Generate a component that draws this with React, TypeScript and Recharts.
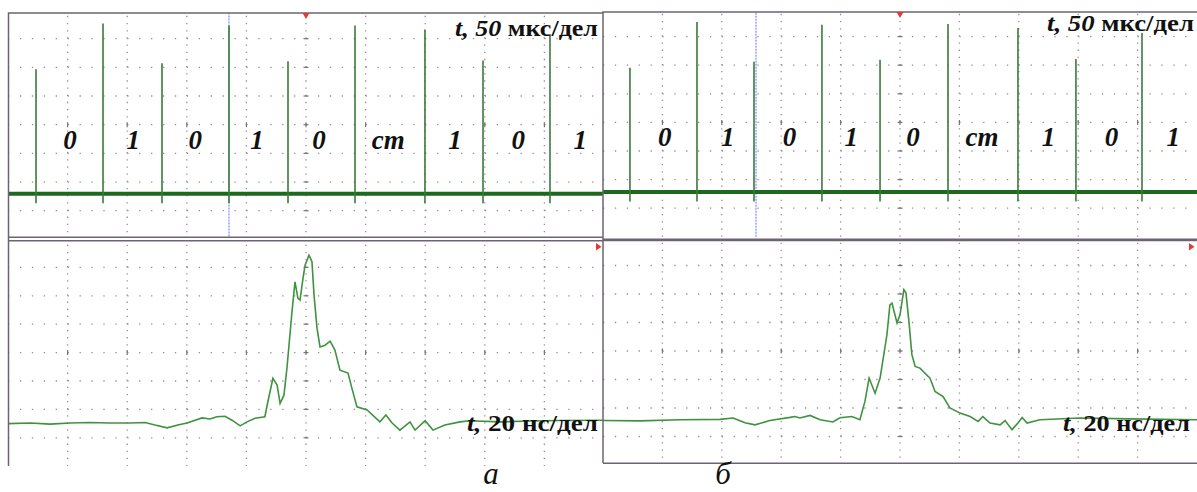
import React from "react";
import {
  ComposedChart,
  Line,
  Scatter,
  XAxis,
  YAxis,
  ReferenceLine,
  ReferenceDot,
} from "recharts";

// --- top traces: code pulse train, 50 µs/div, amplitude in divisions ---
const trainTimesA = [23.5, 79.7, 129.2, 185.4, 234.9, 291.1, 349.8, 398.5, 454.7];
const trainPeaksA = [5.93, 7.53, 6.14, 7.46, 6.21, 7.46, 7.32, 6.24, 7.12];
const trainTimesB = [22.7, 79.1, 127.1, 184.3, 233.2, 290.4, 349.3, 398.1, 453.7];
const trainPeaksB = [5.91, 7.51, 6.12, 7.41, 6.19, 7.44, 7.3, 6.22, 7.13];
const trainBase = [1.59, 1.57]; // а, б
const trainTail = [1.26, 1.23];

// bit labels between the pulses
const bitLabels = ["0", "1", "0", "1", "0", "ст", "1", "0", "1"];
const bitTimes = [52, 105, 157, 209, 261, 319, 375, 428, 480];
const bitLevel = 3.16;

// --- bottom traces: single pulse, 20 ns/div ---
const pulseTimeA = [0, 7.4, 14.1, 20.8, 27.5, 34.2, 40.9, 46.0, 49.3, 53.4, 57.0, 60.1, 62.8, 65.1, 67.8, 70.1, 72.8, 75.2, 77.9, 80.2, 82.9, 86.2, 87.2, 88.9, 90.3, 91.3, 92.6, 93.6, 95.3, 96.3, 97.3, 98.0, 99.0, 99.7, 101.0, 102.0, 102.7, 103.7, 104.7, 106.4, 108.1, 109.7, 111.4, 114.1, 115.4, 117.1, 120.5, 124.8, 126.8, 128.9, 131.5, 134.9, 136.6, 140.0, 142.6, 146.6, 151.7, 155.0, 165.1, 175.2, 185.2, 200];
const pulseAmpA = [1.5, 1.52, 1.48, 1.52, 1.54, 1.52, 1.52, 1.54, 1.45, 1.35, 1.45, 1.52, 1.62, 1.7, 1.66, 1.74, 1.76, 1.62, 1.42, 1.56, 1.69, 1.74, 2.27, 3.09, 2.86, 2.21, 2.5, 3.45, 5.44, 6.49, 5.91, 5.85, 6.62, 7.08, 7.43, 7.2, 6.02, 4.86, 4.2, 4.26, 4.4, 4.09, 3.38, 3.28, 2.75, 2.09, 1.98, 1.56, 1.8, 1.52, 1.27, 1.56, 1.27, 1.6, 1.27, 1.45, 1.56, 1.6, 1.56, 1.59, 1.61, 1.62];
const pulseTimeB = [0, 12.5, 25.9, 39.4, 43.8, 46.1, 47.8, 51.2, 56.2, 63.0, 64.6, 66.3, 69.7, 73.1, 77.4, 79.8, 83.8, 86.5, 88.2, 89.6, 91.6, 93.3, 95.6, 96.6, 97.3, 99.0, 100.0, 101.3, 102.0, 103.0, 104.0, 105.1, 106.7, 110.1, 111.8, 114.5, 116.8, 120.2, 123.6, 126.3, 127.9, 130.3, 133.7, 135.4, 137.7, 139.7, 141.1, 142.8, 147.1, 160.6, 177.4, 200];
const pulseAmpB = [1.56, 1.55, 1.59, 1.6, 1.65, 1.55, 1.48, 1.41, 1.56, 1.67, 1.7, 1.65, 1.74, 1.59, 1.51, 1.66, 1.7, 1.59, 2.23, 3.05, 2.52, 3.05, 4.57, 5.62, 5.68, 4.98, 5.27, 6.15, 6.04, 5.04, 3.87, 3.46, 3.4, 3.05, 2.58, 2.4, 2.0, 1.82, 1.7, 1.53, 1.7, 1.47, 1.41, 1.56, 1.24, 1.47, 1.67, 1.47, 1.59, 1.65, 1.62, 1.59];

const GRID = "#9c879f";
const BORDER = "#6c6470";
const SERIF = '"Liberation Serif", "Times New Roman", serif';

const spikeRows = (times: number[], peaks: number[], tail: number) =>
  times.flatMap((t, i) => [
    { t, v: tail },
    { t, v: peaks[i] },
    { t, v: null as number | null },
  ]);

const zip = (ts: number[], vs: number[]) => ts.map((t, i) => ({ t, v: vs[i] }));

const bitRows = bitTimes.map((t, i) => ({ t, v: bitLevel, label: bitLabels[i] }));

// dotted oscilloscope graticule: 10 x 8 divisions
const graticule = (xMax: number, pxX: number, pxY: number) => {
  const xs = [1, 2, 3, 4, 5, 6, 7, 8, 9].map((i) => (i * xMax) / 10);
  const ys = [1, 2, 3, 4, 5, 6, 7];
  const dotH = `1.3 ${(pxX / 5 - 1.3).toFixed(2)}`;
  const dotV = `1.3 ${(pxY / 4 - 1.3).toFixed(2)}`;
  const cross = (horiz: boolean) => (p: any) =>
    horiz ? (
      <path d={`M${p.cx - 2.5},${p.cy}h5`} stroke="#777" strokeWidth={1.2} />
    ) : (
      <path d={`M${p.cx},${p.cy - 2.5}v5`} stroke="#777" strokeWidth={1.2} />
    );
  return [
    ...xs.map((x) => (
      <ReferenceLine key={"gx" + x} x={x} stroke={GRID} strokeWidth={1.3} strokeDasharray={dotV} />
    )),
    ...ys.map((y) => (
      <ReferenceLine key={"gy" + y} y={y} stroke={GRID} strokeWidth={1.3} strokeDasharray={dotH} />
    )),
    ...ys.map((y) => (
      <ReferenceDot key={"cy" + y} x={xMax / 2} y={y} r={0} shape={cross(true)} />
    )),
    ...xs.map((x) => (
      <ReferenceDot key={"cx" + x} x={x} y={4} r={0} shape={cross(false)} />
    )),
  ];
};

type Box = { left: number; top: number; width: number; height: number };

const Panel: React.FC<{
  clip: Box;
  chartTop: number;
  chartHeight: number;
  xMax: number;
  children: React.ReactNode;
}> = ({ clip, chartTop, chartHeight, xMax, children }) => (
  <div
    style={{
      position: "absolute",
      left: clip.left,
      top: clip.top,
      width: clip.width,
      height: clip.height,
      overflow: "hidden",
      background: "#fff",
    }}
  >
    <div style={{ position: "absolute", left: 0, top: chartTop - clip.top }}>
      <ComposedChart width={clip.width} height={chartHeight} margin={{ top: 0, right: 0, bottom: 0, left: 0 }}>
        <XAxis type="number" dataKey="t" domain={[0, xMax]} hide allowDataOverflow />
        <YAxis type="number" dataKey="v" domain={[0, 8]} hide allowDataOverflow />
        {graticule(xMax, clip.width / 10, chartHeight / 8)}
        {children}
      </ComposedChart>
    </div>
  </div>
);

const bitScatter = (
  <Scatter
    data={bitRows}
    dataKey="v"
    isAnimationActive={false}
    shape={(p: any) => (
      <text
        x={p.cx}
        y={p.cy}
        textAnchor="middle"
        fontFamily={SERIF}
        fontWeight="bold"
        fontStyle="italic"
        fontSize={27}
        fill="#111"
      >
        {p.payload.label}
      </text>
    )}
  />
);

const trainLines = (times: number[], peaks: number[], k: number) => [
  <Line
    key="base"
    data={[{ t: 0, v: trainBase[k] }, { t: 500, v: trainBase[k] }]}
    dataKey="v"
    stroke="#1d6a1d"
    strokeWidth={4}
    dot={false}
    isAnimationActive={false}
  />,
  <Line
    key="spikes"
    data={spikeRows(times, peaks, trainTail[k])}
    dataKey="v"
    stroke="#3a7a3a"
    strokeWidth={1.6}
    dot={false}
    connectNulls={false}
    isAnimationActive={false}
  />,
];

const pulseLine = (ts: number[], vs: number[]) => (
  <Line
    data={zip(ts, vs)}
    dataKey="v"
    stroke="#3f923f"
    strokeWidth={1.6}
    dot={false}
    isAnimationActive={false}
  />
);

const Caption: React.FC<{ x: number; y: number; width: number; size: number; lead: string; rest: string }> = ({
  x, y, width, size, lead, rest,
}) => (
  <text x={x} y={y} textLength={width} lengthAdjust="spacingAndGlyphs" fontFamily={SERIF} fontWeight="bold" fontSize={size} fill="#111">
    <tspan fontStyle="italic">{lead}</tspan>
    {rest}
  </text>
);

export default function App() {
  return (
    <div style={{ position: "absolute", left: 0, top: 0, width: 1197, height: 492, background: "#fff", overflow: "hidden" }}>
      {/* а: top */}
      <Panel clip={{ left: 8, top: 13, width: 596, height: 224 }} chartTop={9.6} chartHeight={229.4} xMax={500}>
        <ReferenceLine x={185.4} stroke="#7b8cff" strokeWidth={1.2} strokeDasharray="2 1" />
        {trainLines(trainTimesA, trainPeaksA, 0)}
        {bitScatter}
      </Panel>
      {/* а: bottom */}
      <Panel clip={{ left: 8, top: 241, width: 596, height: 225 }} chartTop={238.9} chartHeight={227.2} xMax={200}>
        {pulseLine(pulseTimeA, pulseAmpA)}
      </Panel>
      {/* б: top */}
      <Panel clip={{ left: 603, top: 12, width: 594, height: 227 }} chartTop={8.1} chartHeight={228.8} xMax={500}>
        <ReferenceLine x={128.8} stroke="#7b8cff" strokeWidth={1.2} strokeDasharray="2 1" />
        {trainLines(trainTimesB, trainPeaksB, 1)}
        {bitScatter}
      </Panel>
      {/* б: bottom */}
      <Panel clip={{ left: 603, top: 240, width: 594, height: 223 }} chartTop={237.2} chartHeight={228} xMax={200}>
        {pulseLine(pulseTimeB, pulseAmpB)}
      </Panel>

      <svg width={1197} height={492} style={{ position: "absolute", left: 0, top: 0, pointerEvents: "none" }}>
        {/* frames */}
        <g stroke={BORDER} strokeWidth={1.5} fill="none">
          <path d="M8.5,466 V13 H603" />
          <path d="M8,237.2 H603" />
          <path d="M8,240.8 H603" />
          <path d="M603,463 V12 H1197" />
          <path d="M603,239.2 H1197" />
          <path d="M603,240.5 H1197" />
          <path d="M603,463.2 H1197" />
        </g>
        {/* trigger markers */}
        <g fill="#e53935">
          <polygon points="302.5,13 309.5,13 306,19" />
          <polygon points="896.5,12 903.5,12 900,18" />
          <polygon points="596,243 596,250.5 601.5,246.7" />
          <polygon points="1189,243 1189,250.5 1194.5,246.7" />
        </g>
        <Caption x={455} y={36} width={143} size={23} lead="t, 50 " rest="мкс/дел" />
        <Caption x={1047} y={31} width={147} size={23} lead="t, 50 " rest="мкс/дел" />
        <Caption x={467} y={431} width={131} size={24} lead="t, " rest="20 нс/дел" />
        <Caption x={1063} y={431} width={127} size={24} lead="t, " rest="20 нс/дел" />
        <text x={491} y={484} textAnchor="middle" fontFamily={SERIF} fontStyle="italic" fontSize={31} fill="#111">
          а
        </text>
        <text x={723} y={484} textAnchor="middle" fontFamily={SERIF} fontStyle="italic" fontSize={31} fill="#111">
          б
        </text>
      </svg>
    </div>
  );
}
